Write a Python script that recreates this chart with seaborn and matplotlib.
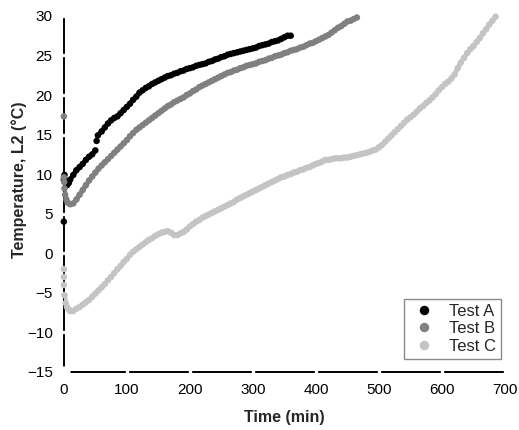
import matplotlib
matplotlib.use("Agg")
import matplotlib.pyplot as plt
import seaborn as sns
import pandas as pd

# ---------------- data ----------------
series_names = ["Test A", "Test B", "Test C"]
palette_colors = ["#000000", "#808080", "#c4c4c4"]

time_a = [0, 0, 1, 3, 5, 8, 10, 15, 20, 25, 30, 35, 40, 45, 50, 52, 54, 60, 65, 70,
          75, 80, 85, 90, 95, 100, 105, 110, 115, 120, 125, 130, 135, 140, 145, 150,
          155, 160, 165, 170, 175, 180, 185, 190, 195, 200, 205, 210, 215, 220, 225,
          230, 235, 240, 245, 250, 255, 260, 265, 270, 275, 280, 285, 290, 295, 300,
          305, 310, 315, 320, 325, 330, 335, 340, 345, 350, 355, 360]
temp_a = [4.0, 9.3, 9.9, 8.9, 8.6, 8.9, 9.3, 9.9, 10.5, 10.9, 11.3, 11.8, 12.2, 12.5,
          13.0, 14.2, 14.9, 15.4, 15.9, 16.4, 16.8, 17.1, 17.3, 17.7, 18.1, 18.5, 18.9,
          19.4, 19.8, 20.3, 20.6, 20.9, 21.1, 21.4, 21.6, 21.8, 22.0, 22.2, 22.4, 22.5,
          22.7, 22.8, 23.0, 23.1, 23.3, 23.4, 23.5, 23.7, 23.8, 23.9, 24.0, 24.2, 24.3,
          24.5, 24.6, 24.8, 24.9, 25.1, 25.2, 25.3, 25.4, 25.5, 25.6, 25.7, 25.8, 25.9,
          26.0, 26.2, 26.3, 26.4, 26.5, 26.7, 26.8, 26.9, 27.1, 27.3, 27.5, 27.5]
# trace segments (isolated readings at the start and the break near 50 min)
seg_a = [0] + [1] * 14 + [2] + [3] * 62

time_b = [0, 0, 0.5, 1, 2, 4, 6, 10, 15, 20, 25, 30, 35, 40, 45, 50, 55, 60, 65, 70,
          75, 80, 85, 90, 95, 100, 105, 110, 115, 120, 125, 130, 135, 140, 145, 150,
          155, 160, 165, 170, 175, 180, 185, 190, 195, 200, 205, 210, 215, 220, 225,
          230, 235, 240, 245, 250, 255, 260, 265, 270, 275, 280, 285, 290, 295, 300,
          305, 310, 315, 320, 325, 330, 335, 340, 345, 350, 355, 360, 365, 370, 375,
          380, 385, 390, 395, 400, 405, 410, 415, 420, 425, 430, 435, 440, 445, 450,
          455, 460, 465]
temp_b = [17.3, 9.6, 9.0, 8.2, 7.4, 6.8, 6.4, 6.2, 6.3, 6.8, 7.4, 8.0, 8.6, 9.2, 9.7,
          10.2, 10.7, 11.1, 11.5, 11.9, 12.3, 12.7, 13.1, 13.5, 13.9, 14.3, 14.8, 15.2,
          15.6, 15.9, 16.2, 16.5, 16.8, 17.1, 17.4, 17.7, 18.0, 18.3, 18.6, 18.8, 19.1,
          19.3, 19.5, 19.7, 20.0, 20.2, 20.5, 20.7, 21.0, 21.2, 21.4, 21.6, 21.8, 22.0,
          22.2, 22.4, 22.6, 22.8, 22.9, 23.1, 23.2, 23.4, 23.5, 23.7, 23.8, 23.9, 24.0,
          24.2, 24.3, 24.4, 24.6, 24.7, 24.9, 25.0, 25.1, 25.3, 25.4, 25.6, 25.7, 25.8,
          26.0, 26.1, 26.3, 26.5, 26.6, 26.8, 27.0, 27.2, 27.4, 27.6, 27.9, 28.2, 28.5,
          28.7, 29.0, 29.3, 29.4, 29.6, 29.8]
seg_b = [0] + [1] * 98

time_c = [0, 0, 0, 1, 3, 5, 8, 10, 15, 20, 25, 30, 35, 40, 45, 50, 55, 60, 65, 70, 75,
          80, 85, 90, 95, 100, 105, 110, 115, 120, 125, 130, 135, 140, 145, 150, 155,
          160, 165, 170, 175, 180, 185, 190, 195, 200, 205, 210, 215, 220, 225, 230,
          235, 240, 245, 250, 255, 260, 265, 270, 275, 280, 285, 290, 295, 300, 305,
          310, 315, 320, 325, 330, 335, 340, 345, 350, 355, 360, 365, 370, 375, 380,
          385, 390, 395, 400, 405, 410, 415, 420, 425, 430, 435, 440, 445, 450, 455,
          460, 465, 470, 475, 480, 485, 490, 495, 500, 505, 510, 515, 520, 525, 530,
          535, 540, 545, 550, 555, 560, 565, 570, 575, 580, 585, 590, 595, 600, 605,
          610, 615, 620, 625, 630, 635, 640, 645, 650, 655, 660, 665, 670, 675, 680, 685]
temp_c = [-2.0, -3.0, -4.0, -5.3, -6.3, -6.8, -7.1, -7.3, -7.3, -7.0, -6.8, -6.5, -6.2,
          -5.9, -5.5, -5.1, -4.7, -4.3, -3.9, -3.4, -3.0, -2.5, -2.0, -1.6, -1.1, -0.7,
          -0.2, 0.2, 0.5, 0.8, 1.1, 1.4, 1.7, 1.9, 2.2, 2.4, 2.6, 2.7, 2.8, 2.6, 2.3,
          2.3, 2.5, 2.7, 3.0, 3.4, 3.7, 4.0, 4.2, 4.5, 4.7, 4.9, 5.1, 5.3, 5.5, 5.7, 5.9,
          6.1, 6.3, 6.5, 6.8, 7.0, 7.2, 7.4, 7.6, 7.8, 8.0, 8.2, 8.4, 8.6, 8.8, 9.0, 9.2,
          9.4, 9.6, 9.7, 9.9, 10.0, 10.2, 10.3, 10.5, 10.6, 10.8, 10.9, 11.1, 11.3, 11.4,
          11.6, 11.8, 11.8, 11.9, 12.0, 12.0, 12.0, 12.1, 12.1, 12.2, 12.3, 12.4, 12.5,
          12.6, 12.7, 12.8, 13.0, 13.1, 13.4, 13.7, 14.1, 14.5, 14.9, 15.3, 15.7, 16.1,
          16.5, 16.9, 17.2, 17.5, 17.9, 18.3, 18.6, 19.0, 19.3, 19.7, 20.1, 20.6, 21.0,
          21.4, 21.7, 22.1, 22.6, 23.4, 24.1, 24.7, 25.3, 25.8, 26.2, 26.7, 27.2, 27.8,
          28.3, 28.9, 29.4, 29.9]
seg_c = [0, 1, 2] + [3] * (len(temp_c) - 3)

x_ticks = [0, 100, 200, 300, 400, 500, 600, 700]
y_ticks = [-15, -10, -5, 0, 5, 10, 15, 20, 25, 30]

# ---------------- build table ----------------
frames = []
for name, t, v, sg in zip(series_names, [time_a, time_b, time_c],
                          [temp_a, temp_b, temp_c], [seg_a, seg_b, seg_c]):
    frames.append(pd.DataFrame({"Time": t, "Temp": v, "Series": name,
                                "Seg": [f"{name}-{k}" for k in sg]}))
df = pd.concat(frames, ignore_index=True)
pal = dict(zip(series_names, palette_colors))

sns.set_style("white")
plt.rcParams["font.family"] = ["Liberation Sans", "DejaVu Sans"]

fig = plt.figure(figsize=(5.19, 4.30), dpi=100)
ax = fig.add_axes([0.123, 0.135, 0.850, 0.828])

# continuous trace under the data points (dense logger readings)
sns.lineplot(data=df, x="Time", y="Temp", hue="Series", units="Seg",
             estimator=None, sort=False, palette=pal, linewidth=3.4,
             solid_capstyle="round", legend=False, ax=ax, zorder=3)
sns.scatterplot(data=df, x="Time", y="Temp", hue="Series", palette=pal,
                s=22, linewidth=0, ax=ax, zorder=3.2, clip_on=False)

ax.set_xlim(0, 700)
ax.set_ylim(-15, 30)
ax.set_xticks(x_ticks)
ax.set_yticks(y_ticks)
ax.tick_params(axis="both", which="major", bottom=True, left=True,
               direction="inout", length=8, width=2.4, color="white",
               labelcolor="black", labelsize=11, pad=4)

for side in ["top", "right"]:
    ax.spines[side].set_visible(False)
for side in ["left", "bottom"]:
    ax.spines[side].set_color("black")
    ax.spines[side].set_linewidth(1.4)
    ax.spines[side].set_zorder(2)
ax.xaxis.set_zorder(2.6)
ax.yaxis.set_zorder(2.6)

ax.set_xlabel("Time (min)", fontsize=11.5, fontweight="bold", labelpad=9)
ax.set_ylabel("Temperature, L2 (°C)", fontsize=11.5, fontweight="bold")
ax.yaxis.set_label_coords(-0.084, 0.54)

leg = ax.legend(loc="lower right", bbox_to_anchor=(0.992, 0.037), borderaxespad=0,
                frameon=True, fancybox=False, edgecolor="#707070", fontsize=12,
                markerscale=1.45, handletextpad=0.65, labelspacing=0.15,
                borderpad=0.3, handlelength=1.8, title=None)
leg.get_frame().set_linewidth(1.0)

fig.savefig("out.png", dpi=100)
